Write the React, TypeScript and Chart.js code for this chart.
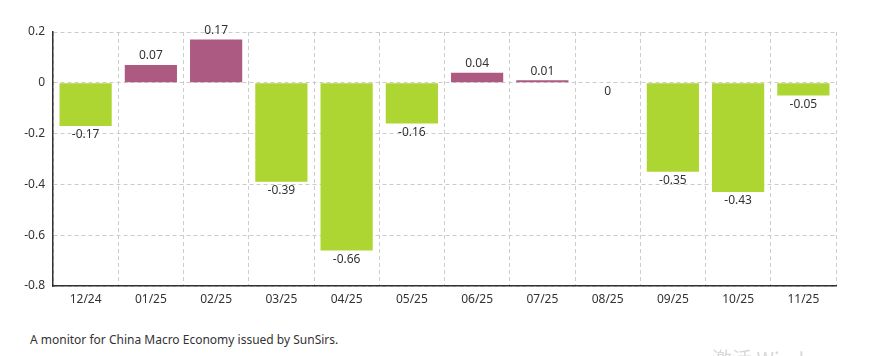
import React, { useEffect, useRef } from "react";
import { Chart, registerables } from "chart.js";

Chart.register(...registerables);

const categories = ["12/24", "01/25", "02/25", "03/25", "04/25", "05/25", "06/25", "07/25", "08/25", "09/25", "10/25", "11/25"];
const values = [-0.17, 0.07, 0.17, -0.39, -0.66, -0.16, 0.04, 0.01, 0, -0.35, -0.43, -0.05];
const yMin = -0.8;
const yMax = 0.2;
const yStep = 0.2;
const footerText = "A monitor for China Macro Economy issued by SunSirs.";

const POS = "#AD5A82";
const NEG = "#ADD632";
const FONT = "'Noto Sans', 'Open Sans', sans-serif";

const labelPlugin = {
  id: "barLabels",
  afterDatasetsDraw(chart: any) {
    const ctx = chart.ctx;
    const meta = chart.getDatasetMeta(0);
    ctx.save();
    ctx.font = `12px ${FONT}`;
    ctx.fillStyle = "#333";
    ctx.textAlign = "center";
    meta.data.forEach((el: any, i: number) => {
      const v = values[i];
      const txt = String(v);
      if (v > 0) {
        ctx.textBaseline = "bottom";
        ctx.fillText(txt, el.x, el.y - 3);
      } else {
        ctx.textBaseline = "top";
        ctx.fillText(txt, el.x, el.y + 3);
      }
    });
    ctx.restore();
  },
};

export default function App() {
  const ref = useRef<HTMLCanvasElement | null>(null);
  useEffect(() => {
    if (!ref.current) return;
    const chart = new Chart(ref.current, {
      type: "bar",
      data: {
        labels: categories,
        datasets: [
          {
            data: values,
            backgroundColor: values.map((v) => (v >= 0 ? POS : NEG)),
            borderWidth: 0,
            barPercentage: 0.8,
            categoryPercentage: 1,
          },
        ],
      },
      options: {
        animation: false,
        responsive: false,
        maintainAspectRatio: false,
        layout: { padding: { top: 24, right: 33, left: 0, bottom: 0 } },
        plugins: { legend: { display: false }, tooltip: { enabled: false } },
        scales: {
          x: {
            offset: true,
            grid: { offset: true, color: "#cccccc", drawTicks: false },
            border: { display: true, color: "#333", width: 1.5, dash: [4, 3] },
            ticks: { color: "#333", font: { family: FONT, size: 12 }, padding: 6 },
            afterFit: (s: any) => {
              s.height = 32;
            },
          },
          y: {
            min: yMin,
            max: yMax,
            grid: { color: "#cccccc", drawTicks: false },
            border: { display: true, color: "#333", width: 1.5, dash: [4, 3] },
            ticks: {
              stepSize: yStep,
              color: "#333",
              padding: 8,
              font: { family: FONT, size: 12 },
              callback: (v: any) => String(Number(Number(v).toFixed(1))),
            },
            afterFit: (s: any) => {
              s.width = 45;
            },
          },
        },
      },
      plugins: [labelPlugin],
    } as any);
    return () => chart.destroy();
  }, []);

  return (
    <div style={{ position: "relative", width: 861, height: 340 }}>
      <canvas ref={ref} width={861} height={310} style={{ display: "block", width: 861, height: 310 }} />
      <div
        style={{
          position: "absolute",
          left: 22,
          top: 323,
          fontFamily: FONT,
          fontSize: 12,
          color: "#333",
          whiteSpace: "nowrap",
        }}
      >
        {footerText}
      </div>
      <div
        style={{
          position: "fixed",
          left: 712,
          top: 344,
          fontFamily: "'Noto Sans CJK SC', sans-serif",
          fontSize: 20,
          color: "#d8d8d8",
          whiteSpace: "nowrap",
        }}
      >
        激活 Windows
      </div>
    </div>
  );
}
